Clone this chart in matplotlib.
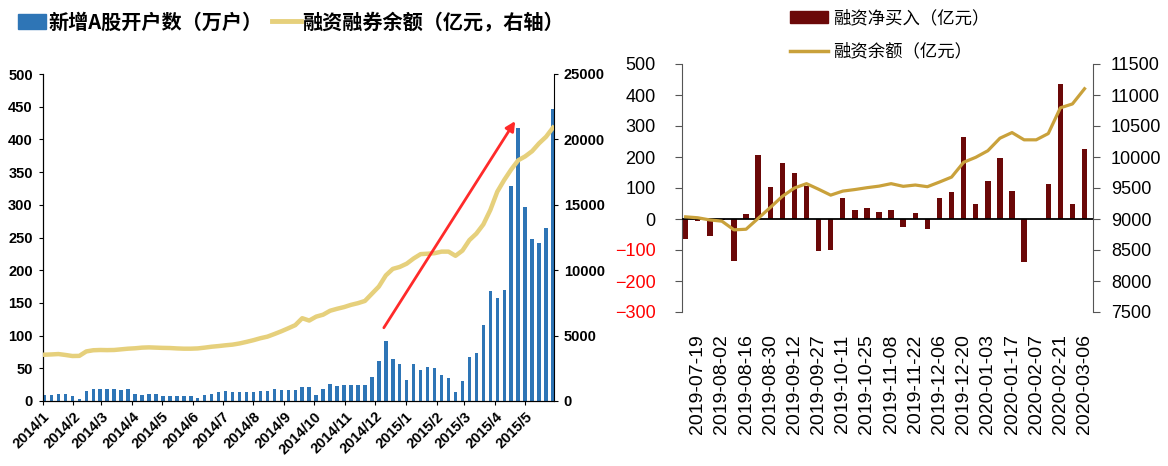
import numpy as np
import pandas as pd
import matplotlib
matplotlib.use("Agg")
import matplotlib.pyplot as plt
from matplotlib.patches import Patch
from matplotlib.lines import Line2D

plt.rcParams['font.family'] = ['Liberation Sans', 'Noto Sans CJK SC', 'DejaVu Sans']
CJK = ['Noto Sans CJK SC', 'DejaVu Sans']

# ---- left panel: weekly new A-share accounts (10k) vs margin balance (100m yuan)
acct_weeks = pd.date_range('2014-01-03', '2015-05-29', freq='W-FRI')
new_accounts = [9, 9, 10, 11, 8, 3,
                15, 18, 19, 18, 18, 17, 19,
                11, 9, 10, 10, 7,
                8, 8, 8, 8, 5,
                9, 11, 14, 15, 14, 14, 13,
                14, 15, 16, 18, 17, 17, 17, 22, 22, 9,
                18, 26, 23, 24, 25, 25, 24, 37,
                61, 91, 64, 56, 32,
                56, 47, 52, 50, 39, 35, 14,
                30, 68, 74, 116, 168, 158, 170,
                329, 418, 297, 248, 242, 264, 446]
margin_total = [3540, 3560, 3590, 3520, 3440, 3450, 3790, 3880, 3900, 3890,
                3900, 3950, 4000, 4030, 4080, 4100, 4080, 4060, 4050, 4020,
                4000, 4000, 4020, 4080, 4150, 4200, 4260, 4310, 4400, 4520,
                4650, 4800, 4920, 5120, 5330, 5560, 5800, 6330, 6150, 6450,
                6600, 6900, 7050, 7180, 7350, 7480, 7650, 8200, 8750, 9600,
                10100, 10250, 10500, 10900, 11230, 11260, 11300, 11420, 11420, 11100,
                11500, 12300, 12800, 13500, 14600, 16000, 16900, 17700, 18400, 18700,
                19100, 19700, 20200, 20900]
month_ticks = pd.date_range('2014-01-01', '2015-05-01', freq='MS')
month_labels = [f'{d.year}/{d.month}' for d in month_ticks]

# ---- right panel: weekly net margin buying and margin balance (100m yuan)
weeks = ['2019-07-12', '2019-07-19', '2019-07-26', '2019-08-02', '2019-08-09',
         '2019-08-16', '2019-08-23', '2019-08-30', '2019-09-06', '2019-09-12',
         '2019-09-20', '2019-09-27', '2019-09-30', '2019-10-11', '2019-10-18',
         '2019-10-25', '2019-11-01', '2019-11-08', '2019-11-15', '2019-11-22',
         '2019-11-29', '2019-12-06', '2019-12-13', '2019-12-20', '2019-12-27',
         '2020-01-03', '2020-01-10', '2020-01-17', '2020-01-23', '2020-02-07',
         '2020-02-14', '2020-02-21', '2020-02-28', '2020-03-06']
net_buy = [-66, -6, -55, -4, -137, 16, 206, 103, 182, 148,
           106, -104, -100, 68, 29, 35, 24, 29, -27, 20,
           -33, 68, 86, 264, 49, 124, 197, 89, -140, np.nan,
           114, 434, 48, 226]
fin_balance = [9035, 9020, 8985, 8965, 8825, 8835, 9010, 9185, 9365, 9500,
               9570, 9480, 9385, 9450, 9475, 9505, 9530, 9570, 9527, 9548,
               9521, 9596, 9676, 9915, 9995, 10101, 10303, 10394, 10277, 10277,
               10378, 10793, 10856, 11101]

BLUE = '#2E75B6'
PALE_GOLD = '#E6D07C'
MAROON = '#6B0808'
GOLD = '#C9A13B'

fig = plt.figure(figsize=(11.68, 4.66), dpi=100)

# left chart
ax1 = fig.add_axes([42.5 / 1168, 1 - 401 / 466, 511.5 / 1168, 327 / 466])
ax1.bar(acct_weeks, new_accounts, width=3.5, color=BLUE, zorder=2)
ax1.set_ylim(0, 500)
ax1.set_yticks(range(0, 501, 50))
ax1.set_xlim(pd.Timestamp('2014-01-01'), pd.Timestamp('2015-05-30'))
ax1.set_xticks(month_ticks)
ax1.set_xticklabels(month_labels, rotation=45, ha='right', va='top',
                    rotation_mode='anchor', fontweight='bold', fontsize=10.5)
for lab in ax1.get_yticklabels():
    lab.set_fontweight('bold')
ax1.tick_params(axis='y', labelsize=10.5, length=3, pad=4)
ax1.tick_params(axis='x', length=3, pad=3)
ax1.spines['top'].set_visible(False)
ax1.spines['right'].set_visible(False)

ax1r = ax1.twinx()
ax1r.plot(acct_weeks, margin_total, color=PALE_GOLD, lw=3.2, zorder=3)
ax1r.set_ylim(0, 25000)
ax1r.set_yticks(range(0, 25001, 5000))
for lab in ax1r.get_yticklabels():
    lab.set_fontweight('bold')
ax1r.tick_params(axis='y', labelsize=10.5, length=3, pad=4)
ax1r.spines['top'].set_visible(False)

# arrow from the December spike up to the April peak
ax1r.annotate('', xy=(acct_weeks[68] - pd.Timedelta(days=3), 428 * 50),
              xytext=(acct_weeks[49] - pd.Timedelta(days=2), 112 * 50),
              arrowprops=dict(arrowstyle='-|>', color='#FF2A2A', lw=2,
                              mutation_scale=14, shrinkA=0, shrinkB=0))

fig.legend([Patch(color=BLUE), Line2D([], [], color=PALE_GOLD, lw=3.5)],
           ['新增A股开户数（万户）', '融资融券余额（亿元，右轴）'],
           loc='center left', bbox_to_anchor=(18 / 1168, 1 - 22 / 466),
           ncol=2, frameon=False, borderpad=0, borderaxespad=0,
           handlelength=1.4, handletextpad=0.1, columnspacing=0.5,
           prop=dict(family=CJK, weight='bold', size=14.5))

# right chart
x = np.arange(len(weeks))
ax2 = fig.add_axes([682 / 1168, 1 - 312 / 466, 411 / 1168, 248 / 466])
ax2.bar(x, net_buy, width=0.45, color=MAROON, zorder=2)
ax2.axhline(0, color='black', lw=1.3, zorder=3)
ax2.set_ylim(-300, 500)
ax2.set_yticks(range(-300, 501, 100))
ax2.set_xlim(-0.3, len(weeks) - 0.3)
ax2.set_xticks(x[1::2])
ax2.set_xticklabels(weeks[1::2], rotation=90, fontsize=14)
ax2.tick_params(axis='x', length=0, pad=16)
ax2.tick_params(axis='y', labelsize=13, length=5, pad=14, color='#555555')
for lab in ax2.get_yticklabels():
    if lab.get_text().startswith(('-', '−')):
        lab.set_color('#FF0000')
for s in ['top', 'right', 'bottom']:
    ax2.spines[s].set_visible(False)
ax2.spines['left'].set_color('#555555')

ax2r = ax2.twinx()
ax2r.plot(x, fin_balance, color=GOLD, lw=2.3, zorder=4)
ax2r.set_ylim(7500, 11500)
ax2r.set_yticks(range(7500, 11501, 500))
ax2r.tick_params(axis='y', labelsize=13, length=5, pad=8, color='#555555')
for s in ['top', 'left', 'bottom']:
    ax2r.spines[s].set_visible(False)
ax2r.spines['right'].set_color('#555555')

fig.legend([Patch(color=MAROON), Line2D([], [], color=GOLD, lw=2.5)],
           ['融资净买入（亿元）', '融资余额（亿元）'],
           loc='upper left', bbox_to_anchor=(790 / 1168, 1 - 9 / 466),
           ncol=1, frameon=False, borderpad=0, borderaxespad=0,
           handlelength=2.2, handletextpad=0.3, labelspacing=0.9,
           prop=dict(family=CJK, size=12.5))

fig.savefig('out.png', dpi=100)
